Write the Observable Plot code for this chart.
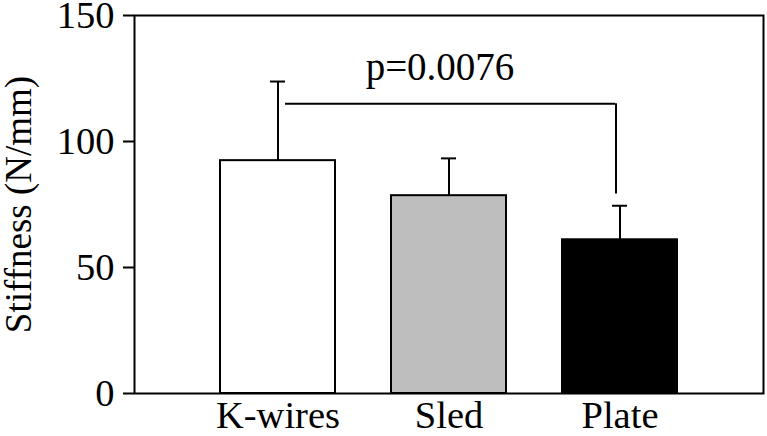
<!DOCTYPE html>
<html><head><meta charset="utf-8">
<script src="https://cdn.jsdelivr.net/npm/d3@7"></script>
<script src="https://cdn.jsdelivr.net/npm/@observablehq/plot@0.6"></script>
<style>
body{margin:0;background:#fff}
#chart svg, #chart svg text{font-family:"Liberation Serif","Times New Roman",serif !important;}
</style>
</head><body><div id="chart"></div>
<script>
const groups = ["K-wires", "Sled", "Plate"];
const means = [92.4, 78.5, 61.0];
const sds = [31.4, 14.8, 13.5];
const fills = ["#ffffff", "#bebebe", "#000000"];
const yTicks = [0, 50, 100, 150];
const yLabel = "Stiffness (N/mm)";
const compareFrom = "K-wires";
const compareTo = "Plate";
const bracketY = 115;
const bracketEnd = 79.2;
const pLabel = "p=0.0076";
const pLabelY = 124.5;

const data = groups.map((g, i) => ({group: g, mean: means[i], sd: sds[i], top: means[i] + sds[i]}));
const bracket = [{from: compareFrom, to: compareTo, y: bracketY, end: bracketEnd, label: pLabel, labelY: pLabelY, labelX: "Sled"}];

const chart = Plot.plot({
  width: 767,
  height: 436,
  marginLeft: 134,
  marginRight: 4,
  marginTop: 15,
  marginBottom: 43,
  style: "background:white;color:black;font-family:'Liberation Serif',serif;overflow:visible",
  x: {domain: groups, paddingInner: 0.33, paddingOuter: 0.5},
  y: {domain: [0, 150]},
  color: {domain: groups, range: fills},
  marks: [
    Plot.barY(data, {x: "group", y: "mean", fill: "group", stroke: "black", strokeWidth: 2}),
    Plot.ruleX(data, {x: "group", y1: "mean", y2: "top", stroke: "black", strokeWidth: 2}),
    Plot.tickY(data, {x: "group", y: "top", insetLeft: 50, insetRight: 50, stroke: "black", strokeWidth: 2}),
    Plot.ruleY(bracket, {x1: "from", x2: "to", y: "y", insetLeft: 65, insetRight: 62, stroke: "black", strokeWidth: 2}),
    Plot.ruleX(bracket, {x: "to", y1: "end", y2: "y", dx: -4, stroke: "black", strokeWidth: 2}),
    Plot.text(bracket, {x: "labelX", y: "labelY", text: "label", lineAnchor: "bottom", dx: -9, fontSize: 39, fill: "black"}),
    Plot.axisY({ticks: yTicks, tickSize: 11, tickPadding: 9, strokeWidth: 2, label: null, fontSize: 38.5}),
    Plot.axisY({ticks: [], tickSize: 0, label: yLabel, labelAnchor: "center", labelOffset: 130, labelArrow: "none", fontSize: 37}),
    Plot.axisX({tickSize: 0, tickPadding: 7, label: null, fontSize: 38.5}),
    Plot.frame({stroke: "black", strokeWidth: 2})
  ]
});
document.getElementById("chart").appendChild(chart);
</script>
</body></html>
